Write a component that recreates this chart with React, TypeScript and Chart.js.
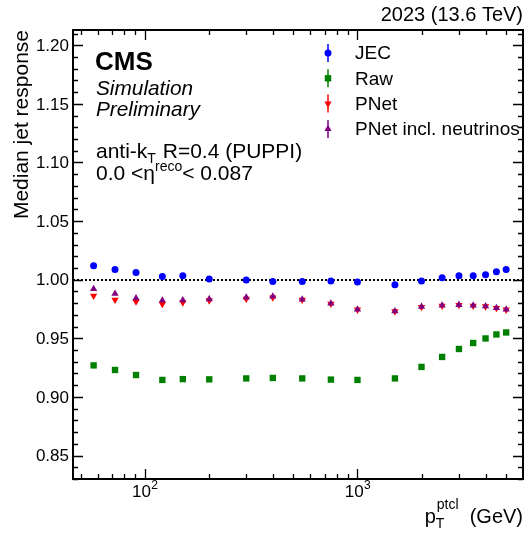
import React, { useEffect, useRef } from 'react';
import { Chart, registerables } from 'chart.js';

Chart.register(...registerables);

const ptValues = [57.5, 72.5, 91, 121, 151, 201, 300, 400, 550, 750, 1000, 1500, 2000, 2500, 3000, 3500, 4000, 4500, 5000];
const jecResponse = [1.0118, 1.0087, 1.0061, 1.0027, 1.0033, 1.0005, 0.9997, 0.9985, 0.9985, 0.9988, 0.998, 0.9957, 0.999, 1.0016, 1.0033, 1.0033, 1.0042, 1.0067, 1.0087];
const rawResponse = [0.9269, 0.923, 0.9187, 0.9145, 0.9152, 0.915, 0.9158, 0.9162, 0.9158, 0.9148, 0.9145, 0.9158, 0.9256, 0.9341, 0.9409, 0.946, 0.9499, 0.9533, 0.955];
const pnetResponse = [0.9863, 0.9829, 0.9814, 0.9792, 0.9806, 0.9823, 0.9837, 0.9848, 0.9829, 0.9795, 0.9744, 0.9729, 0.9767, 0.9778, 0.9784, 0.9778, 0.9772, 0.9758, 0.9744];
const pnetNuResponse = [0.9922, 0.988, 0.9843, 0.9823, 0.9826, 0.9835, 0.9848, 0.9857, 0.9832, 0.9797, 0.9746, 0.9731, 0.977, 0.978, 0.9786, 0.978, 0.9774, 0.976, 0.9746];

const seriesNames = ['JEC', 'Raw', 'PNet', 'PNet incl. neutrinos'];
const seriesColors = ['#0000ff', '#008000', '#ff0000', '#800080'];

const yMajorTicks = [0.85, 0.9, 0.95, 1.0, 1.05, 1.1, 1.15, 1.2];
const xMajorTicks = [100, 1000];
const xMinorTicks = [50, 60, 70, 80, 90, 200, 300, 400, 500, 600, 700, 800, 900, 2000, 3000, 4000, 5000];

const FONT = "'Liberation Sans', Arial, Helvetica, sans-serif";

function drawMarker(ctx: CanvasRenderingContext2D, kind: string, x: number, y: number, color: string) {
  ctx.save();
  ctx.fillStyle = color;
  ctx.beginPath();
  if (kind === 'circle') {
    ctx.arc(x, y, 3.5, 0, Math.PI * 2);
  } else if (kind === 'rect') {
    ctx.rect(x - 3.2, y - 3.2, 6.4, 6.4);
  } else if (kind === 'down') {
    const r = 4.2;
    ctx.moveTo(x, y + r);
    ctx.lineTo(x - r * 0.866, y - r / 2);
    ctx.lineTo(x + r * 0.866, y - r / 2);
    ctx.closePath();
  } else {
    const r = 4.2;
    ctx.moveTo(x, y - r);
    ctx.lineTo(x - r * 0.866, y + r / 2);
    ctx.lineTo(x + r * 0.866, y + r / 2);
    ctx.closePath();
  }
  ctx.fill();
  ctx.restore();
}

const framePlugin = {
  id: 'rootFrame',
  beforeDatasetsDraw(chart: any) {
    const { ctx, chartArea: a, scales } = chart;
    const y1 = Math.round(scales.y.getPixelForValue(1.0));
    ctx.save();
    ctx.strokeStyle = '#000';
    ctx.lineWidth = 2;
    ctx.setLineDash([2, 2]);
    ctx.beginPath();
    ctx.moveTo(a.left, y1);
    ctx.lineTo(a.right, y1);
    ctx.stroke();
    ctx.restore();
  },
  afterDraw(chart: any) {
    const { ctx, chartArea: a, scales } = chart;
    const xs = scales.x;
    const ys = scales.y;
    ctx.save();
    ctx.strokeStyle = '#000';
    ctx.fillStyle = '#000';
    ctx.lineWidth = 2;
    ctx.strokeRect(a.left, a.top, a.right - a.left, a.bottom - a.top);

    // Y ticks
    ctx.lineWidth = 1.3;
    for (let k = 83; k <= 121; k++) {
      const v = k / 100;
      const py = Math.round(ys.getPixelForValue(v)) + 0.5;
      const major = k % 5 === 0;
      const len = major ? 10 : 5;
      ctx.beginPath();
      ctx.moveTo(a.left, py);
      ctx.lineTo(a.left + len, py);
      ctx.moveTo(a.right, py);
      ctx.lineTo(a.right - len, py);
      ctx.stroke();
    }
    ctx.font = `17px ${FONT}`;
    ctx.textAlign = 'right';
    ctx.textBaseline = 'middle';
    yMajorTicks.forEach((v) => {
      const py = ys.getPixelForValue(v);
      ctx.fillText(v.toFixed(2), a.left - 4, py + 1);
    });

    // X ticks
    const allX = [...xMajorTicks.map((v) => [v, true]), ...xMinorTicks.map((v) => [v, false])] as [number, boolean][];
    allX.forEach(([v, major]) => {
      const px = Math.round(xs.getPixelForValue(v)) + 0.5;
      const len = major ? 10 : 5;
      ctx.beginPath();
      ctx.moveTo(px, a.bottom);
      ctx.lineTo(px, a.bottom - len);
      ctx.moveTo(px, a.top);
      ctx.lineTo(px, a.top + len);
      ctx.stroke();
    });
    ctx.textBaseline = 'alphabetic';
    xMajorTicks.forEach((v) => {
      const px = xs.getPixelForValue(v);
      const exp = String(Math.round(Math.log10(v)));
      ctx.font = `17px ${FONT}`;
      const w1 = ctx.measureText('10').width;
      ctx.font = `12px ${FONT}`;
      const w2 = ctx.measureText(exp).width;
      const start = px - (w1 + w2) / 2;
      ctx.textAlign = 'left';
      ctx.font = `17px ${FONT}`;
      ctx.fillText('10', start, 497);
      ctx.font = `12px ${FONT}`;
      ctx.fillText(exp, start + w1 + 0.5, 489);
    });

    // Axis titles
    ctx.textAlign = 'right';
    ctx.font = `20px ${FONT}`;
    ctx.fillText('(GeV)', a.right, 523);
    const gevW = ctx.measureText('  (GeV)').width;
    ctx.font = `14px ${FONT}`;
    const ptclW = ctx.measureText('ptcl').width;
    const supX = a.right - gevW - ptclW;
    ctx.textAlign = 'left';
    ctx.fillText('ptcl', supX, 509);
    ctx.fillText('T', supX - 1, 528);
    ctx.font = `20px ${FONT}`;
    const pW = ctx.measureText('p').width;
    ctx.fillText('p', supX - pW - 1, 523);

    ctx.save();
    ctx.translate(28, a.top);
    ctx.rotate(-Math.PI / 2);
    ctx.textAlign = 'right';
    ctx.font = `21px ${FONT}`;
    ctx.fillText('Median jet response', 0, 0);
    ctx.restore();

    // Header
    ctx.textAlign = 'right';
    ctx.font = `20px ${FONT}`;
    ctx.fillText('2023 (13.6 TeV)', a.right, 21);

    // CMS labels
    ctx.textAlign = 'left';
    ctx.font = `bold 26px ${FONT}`;
    ctx.fillText('CMS', 95, 70);
    ctx.font = `italic 20.8px ${FONT}`;
    ctx.fillText('Simulation', 96, 95);
    ctx.fillText('Preliminary', 96, 116);

    ctx.font = `21px ${FONT}`;
    let x = 96;
    ctx.fillText('anti-k', x, 158);
    x += ctx.measureText('anti-k').width;
    ctx.font = `14px ${FONT}`;
    ctx.fillText('T', x, 163);
    x += ctx.measureText('T').width + 1;
    ctx.font = `21px ${FONT}`;
    ctx.fillText(' R=0.4 (PUPPI)', x, 158);

    x = 96;
    ctx.fillText('0.0 <\u03B7', x, 180);
    x += ctx.measureText('0.0 <\u03B7').width;
    ctx.font = `14px ${FONT}`;
    ctx.fillText('reco', x, 171);
    x += ctx.measureText('reco').width;
    ctx.font = `21px ${FONT}`;
    ctx.fillText('< 0.087', x, 180);

    // Legend
    const kinds = ['circle', 'rect', 'down', 'up'];
    seriesNames.forEach((name, i) => {
      const ly = 53 + i * 25.3;
      const lx = 328;
      ctx.strokeStyle = seriesColors[i];
      ctx.lineWidth = 1.5;
      ctx.beginPath();
      ctx.moveTo(lx, ly - 9);
      ctx.lineTo(lx, ly + 9);
      ctx.stroke();
      drawMarker(ctx, kinds[i], lx, ly, seriesColors[i]);
      ctx.fillStyle = '#000';
      ctx.font = `19px ${FONT}`;
      ctx.textAlign = 'left';
      ctx.textBaseline = 'middle';
      ctx.fillText(name, 355, ly + 1);
    });
    ctx.restore();
  },
};

export default function App() {
  const canvasRef = useRef<HTMLCanvasElement | null>(null);

  useEffect(() => {
    const canvas = canvasRef.current;
    if (!canvas) return;
    const mk = (vals: number[]) => ptValues.map((x, i) => ({ x, y: vals[i] }));
    const chart = new Chart(canvas, {
      type: 'scatter',
      data: {
        datasets: [
          { label: seriesNames[0], data: mk(jecResponse), backgroundColor: seriesColors[0], borderColor: seriesColors[0], pointStyle: 'circle', pointRadius: 3.5, borderWidth: 0, order: 4 },
          { label: seriesNames[1], data: mk(rawResponse), backgroundColor: seriesColors[1], borderColor: seriesColors[1], pointStyle: 'rect', pointRadius: 4.5, borderWidth: 0, order: 3 },
          { label: seriesNames[2], data: mk(pnetResponse), backgroundColor: seriesColors[2], borderColor: seriesColors[2], pointStyle: 'triangle', rotation: 180, pointRadius: 4.2, borderWidth: 0, order: 2 },
          { label: seriesNames[3], data: mk(pnetNuResponse), backgroundColor: seriesColors[3], borderColor: seriesColors[3], pointStyle: 'triangle', pointRadius: 4.2, borderWidth: 0, order: 1 },
        ] as any,
      },
      options: {
        responsive: false,
        animation: false,
        devicePixelRatio: 1,
        layout: { padding: { left: 73, right: 6, top: 30, bottom: 56 } },
        scales: {
          x: { type: 'logarithmic', min: 46, max: 6000, display: false },
          y: { type: 'linear', min: 0.83, max: 1.213, display: false },
        },
        plugins: { legend: { display: false }, tooltip: { enabled: false } },
      },
      plugins: [framePlugin],
    });
    return () => chart.destroy();
  }, []);

  return (
    <div style={{ position: 'fixed', left: 0, top: 0, width: 529, height: 535, background: '#fff' }}>
      <canvas ref={canvasRef} width={529} height={535} style={{ width: 529, height: 535 }} />
    </div>
  );
}
